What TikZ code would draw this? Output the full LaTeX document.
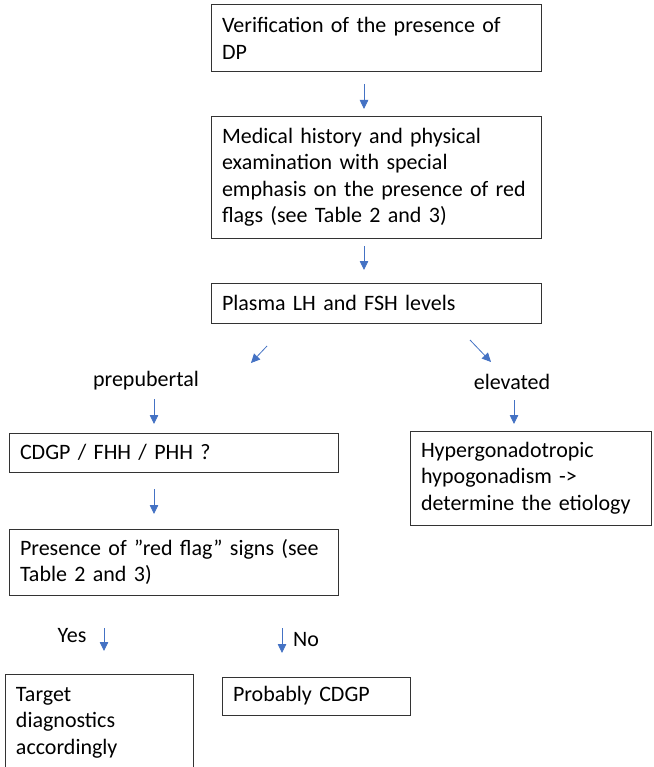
\documentclass[tikz,border=0pt]{standalone}
\usepackage{fontspec}
\setmainfont{Carlito}
\usetikzlibrary{arrows.meta}
\definecolor{arrowblue}{HTML}{4472C4}
\definecolor{boxline}{HTML}{333333}
\tikzset{
  flowbox/.style={draw=boxline, line width=1pt, anchor=north west, align=left,
    inner xsep=11pt, inner ysep=0pt, outer sep=0pt,
    font=\fontsize{22}{26.5}\selectfont},
  flowlabel/.style={font=\fontsize{22}{26.5}\selectfont, inner sep=0pt},
  flowarrow/.style={draw=arrowblue, line width=0.8pt, -{Triangle[length=9pt,width=8.5pt]}}
}
\begin{document}
\begin{tikzpicture}[x=1pt,y=-1pt]
\useasboundingbox (0,0) rectangle (653,767);
\clip (0,0) rectangle (653,767);
\fill[white] (0,0) rectangle (653,767);
% boxes
\node[flowbox, minimum width=330pt, minimum height=67pt, text width=308pt] (v1) at (211,5)
  {Verification of the presence of\\DP};
\node[flowbox, minimum width=330pt, minimum height=121pt, text width=308pt] (v2) at (211,117)
  {Medical history and physical\\examination with special\\emphasis on the presence of red\\flags (see Table 2 and 3)};
\node[flowbox, minimum width=330pt, minimum height=40pt, text width=308pt] (v3) at (211,283)
  {Plasma LH and FSH levels};
\node[flowbox, minimum width=329pt, minimum height=39pt, text width=307pt] (cdgp) at (9,433)
  {CDGP / FHH / PHH ?};
\node[flowbox, minimum width=329pt, minimum height=66pt, text width=307pt] (pres) at (9,529)
  {Presence of ”red flag” signs (see\\Table 2 and 3)};
\node[flowbox, minimum width=241pt, minimum height=94pt, text width=219pt] (hyper) at (410,431)
  {Hypergonadotropic\\hypogonadism ->\\determine the etiology};
\node[flowbox, minimum width=188pt, minimum height=97pt, text width=166pt] (target) at (5,674)
  {Target\\diagnostics\\accordingly};
\node[flowbox, minimum width=188pt, minimum height=38pt, text width=166pt] (prob) at (222,677)
  {Probably CDGP};
% labels
\node[flowlabel] (prep) at (146,381) {prepubertal};
\node[flowlabel] (elev) at (512,382) {elevated};
\node[flowlabel] (yes) at (72,636) {Yes};
\node[flowlabel] (no) at (306,640) {No};
% arrow endpoints
\coordinate (a1s) at (364,84);  \coordinate (a1e) at (364,109);
\coordinate (a2s) at (364,246); \coordinate (a2e) at (364,270);
\coordinate (a3s) at (267,346); \coordinate (a3e) at (251,363);
\coordinate (a4s) at (470,340); \coordinate (a4e) at (491,362);
\coordinate (a5s) at (154,399); \coordinate (a5e) at (154,424);
\coordinate (a6s) at (514,400); \coordinate (a6e) at (514,424);
\coordinate (a7s) at (154,489); \coordinate (a7e) at (154,514);
\coordinate (a8s) at (104,628); \coordinate (a8e) at (104,651);
\coordinate (a9s) at (282,628); \coordinate (a9e) at (282,653);
\foreach \i in {1,...,9} { \draw[flowarrow] (a\i s) -- (a\i e); }
\end{tikzpicture}
\end{document}
